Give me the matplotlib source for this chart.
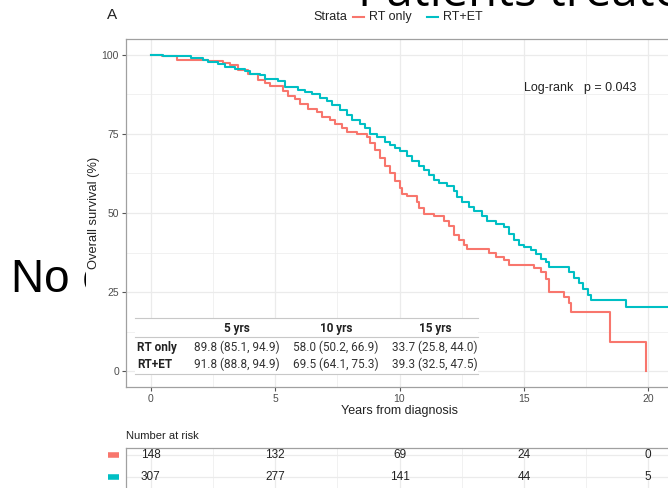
import matplotlib
matplotlib.use("Agg")
import matplotlib.pyplot as plt
from matplotlib.patches import Rectangle
from matplotlib.lines import Line2D

# Kaplan-Meier step estimates (years, survival %)
rt_only_t = [0, 0.45, 1.05, 2.3, 2.9, 3.2, 3.5, 3.9, 4.3, 4.6, 4.8, 5.3, 5.5, 5.8,
             6.0, 6.3, 6.7, 6.9, 7.2, 7.4, 7.7, 7.9, 8.3, 8.7, 8.8, 9.0, 9.2, 9.4,
             9.6, 9.8, 10.0, 10.1, 10.3, 10.7, 10.8, 11.0, 11.4, 11.8, 12.0, 12.2,
             12.4, 12.6, 12.7, 13.6, 13.9, 14.2, 14.4, 15.4, 15.7, 15.9, 16.0, 16.6,
             16.8, 16.9, 18.45, 19.9]
rt_only_s = [100, 99.5, 98.4, 98.1, 97.5, 96.8, 95.2, 93.8, 92.0, 91.0, 90.0, 88.5,
             87.0, 86.0, 84.5, 83.0, 82.0, 80.5, 79.5, 78.0, 77.0, 75.5, 75.0, 74.0,
             72.0, 70.0, 67.5, 65.0, 62.5, 60.0, 58.0, 56.0, 55.5, 53.5, 51.5, 49.8,
             49.0, 47.5, 46.0, 43.0, 41.5, 40.0, 38.6, 37.5, 36.2, 35.0, 33.7, 32.5,
             31.2, 29.0, 25.0, 23.5, 21.5, 18.7, 9.3, 0]

rt_et_t = [0, 0.5, 1.6, 2.1, 2.3, 2.7, 3.0, 3.4, 3.8, 4.0, 4.4, 4.6, 5.1, 5.4, 5.9,
           6.2, 6.5, 6.8, 7.1, 7.3, 7.6, 7.9, 8.1, 8.4, 8.6, 8.8, 9.1, 9.4, 9.6, 9.8,
           10.0, 10.3, 10.5, 10.8, 11.0, 11.2, 11.4, 11.6, 11.9, 12.2, 12.3, 12.5,
           12.8, 13.0, 13.3, 13.5, 13.9, 14.2, 14.4, 14.6, 14.8, 15.0, 15.3, 15.5,
           15.7, 15.9, 16.0, 16.8, 17.0, 17.2, 17.4, 17.6, 17.7, 19.1, 20.9]
rt_et_s = [100, 99.7, 99.0, 98.4, 97.8, 97.0, 96.3, 95.5, 95.0, 94.0, 93.7, 92.4,
           91.6, 89.8, 89.0, 88.3, 87.5, 86.5, 85.5, 84.0, 82.5, 81.0, 79.5, 78.0,
           77.0, 75.0, 74.0, 72.5, 71.5, 70.5, 69.5, 68.0, 66.5, 65.0, 63.5, 62.0,
           60.5, 59.5, 58.5, 57.0, 55.0, 53.5, 52.0, 50.5, 49.0, 47.5, 46.5, 45.5,
           43.5, 41.5, 39.8, 39.3, 38.2, 37.0, 35.5, 34.5, 33.0, 31.5, 29.5, 28.0,
           26.0, 24.0, 22.4, 20.2, 20.2]

strata = ["RT only", "RT+ET"]
colors = ["#F8766D", "#00BFC4"]

# survival summary table
summary_cols = ["5 yrs", "10 yrs", "15 yrs"]
summary_rows = [
    ["89.8 (85.1, 94.9)", "58.0 (50.2, 66.9)", "33.7 (25.8, 44.0)"],
    ["91.8 (88.8, 94.9)", "69.5 (64.1, 75.3)", "39.3 (32.5, 47.5)"],
]

# number at risk
risk_times = [0, 5, 10, 15, 20]
risk_rt_only = [148, 132, 69, 24, 0]
risk_rt_et = [307, 277, 141, 44, 5]

W, H = 668, 488
fig = plt.figure(figsize=(W / 100, H / 100), dpi=100)
fig.patch.set_facecolor("white")

main_font = ["Liberation Sans", "DejaVu Sans"]
tab_font = ["Liberation Sans Narrow", "Roboto", "DejaVu Sans"]
grey_txt = "#4D4D4D"
grid_c = "#EBEBEB"
border_c = "#A0A0A0"


def px_axes(left, top, right, bottom):
    return fig.add_axes([left / W, 1 - bottom / H, (right - left) / W, (bottom - top) / H])


# slide text behind the pasted chart
fig.text(11 / W, 1 - 292 / H, "No c", fontsize=33, family=main_font,
         color="black", va="baseline", ha="left", zorder=-3)
fig.text(358 / W, 1 - 6 / H, "Patients treated", fontsize=34,
         family=["Open Sans", "DejaVu Sans"], color="black", va="baseline", ha="left",
         zorder=-3)
fig.patches.append(Rectangle((86 / W, 0), 1, 1 - 6 / H, transform=fig.transFigure,
                             facecolor="white", edgecolor="none", zorder=-2))

# ---- survival curves ----
ax = px_axes(126, 39, 673, 387)
ax.set_xlim(-1, 21)
ax.set_ylim(-5, 105)
ax.set_xticks([0, 5, 10, 15, 20])
ax.set_xticks([2.5, 7.5, 12.5, 17.5], minor=True)
ax.set_yticks([0, 25, 50, 75, 100])
ax.set_yticks([12.5, 37.5, 62.5, 87.5], minor=True)
ax.grid(True, which="major", color=grid_c, lw=0.9)
ax.grid(True, which="minor", color=grid_c, lw=0.5)
ax.set_axisbelow(True)
for sp in ax.spines.values():
    sp.set_color(border_c)
    sp.set_linewidth(0.9)
ax.tick_params(which="major", length=3, color="#555555", labelsize=7.5,
               labelcolor=grey_txt, pad=2)
ax.tick_params(which="minor", length=0)
for lab in ax.get_xticklabels() + ax.get_yticklabels():
    lab.set_family(main_font)

ax.step(rt_only_t, rt_only_s, where="post", color=colors[0], lw=1.5, zorder=3)
ax.step(rt_et_t, rt_et_s, where="post", color=colors[1], lw=1.5, zorder=3)

ax.set_xlabel("Years from diagnosis", fontsize=9, family=main_font, color="#222222",
              labelpad=1)
ax.set_ylabel("Overall survival (%)", fontsize=9.3, family=main_font, color="#222222",
              labelpad=1)

ax.text(15.0, 89.6, "Log-rank   p = 0.043", fontsize=9, family=main_font,
        color="#222222", va="center", ha="left")

# inset summary table
ax.add_patch(Rectangle((-0.62, -1.3), 13.77, 18.1, facecolor="white", edgecolor="none",
                       zorder=2))
for yl in [16.8, 10.8, -0.9]:
    ax.plot([-0.62, 13.15], [yl, yl], color="#C8C8C8", lw=0.8, zorder=2.5)
col_x = [3.47, 7.45, 11.43]
for cx, name in zip(col_x, summary_cols):
    ax.text(cx, 13.6, name, fontsize=8.5, family=tab_font, weight="bold", ha="center",
            va="center", color="#222222", zorder=4)
for ry, name, vals in zip([7.6, 2.2], strata, summary_rows):
    ax.text(-0.54, ry, name, fontsize=8.5, family=tab_font, weight="bold", ha="left",
            va="center", color="#222222", zorder=4)
    for cx, v in zip(col_x, vals):
        ax.text(cx, ry, v, fontsize=8.5, family=tab_font, ha="center", va="center",
                color="#333333", zorder=4)

# legend along the top
fig.text(112 / W, 1 - 15 / H, "A", fontsize=11, family=main_font, ha="center",
         va="center", color="#222222")
ly = 1 - 17 / H
fig.text(313 / W, ly, "Strata", fontsize=9, family=main_font, va="center", ha="left",
         color="#222222")
for x0, name, c in zip([353, 427], strata, colors):
    fig.add_artist(Line2D([x0 / W, (x0 + 11) / W], [ly, ly], color=c, lw=1.5))
    fig.text((x0 + 16) / W, ly, name, fontsize=9, family=main_font, va="center",
             ha="left", color="#222222")

# ---- number at risk ----
fig.text(126 / W, 1 - 436 / H, "Number at risk", fontsize=8, family=main_font,
         va="center", ha="left", color="#222222")
ax2 = px_axes(126, 448, 673, 500)
ax2.set_xlim(-1, 21)
ax2.set_ylim(2.05, -0.32)
ax2.set_xticks([0, 5, 10, 15, 20])
ax2.set_xticks([2.5, 7.5, 12.5, 17.5], minor=True)
ax2.set_yticks([0, 1])
ax2.grid(True, which="major", color=grid_c, lw=0.9)
ax2.grid(True, which="minor", axis="x", color=grid_c, lw=0.5)
ax2.set_axisbelow(True)
ax2.tick_params(length=0, labelbottom=False, labelleft=False)
for sp in ax2.spines.values():
    sp.set_color(border_c)
    sp.set_linewidth(0.9)
for row, (counts, c) in enumerate(zip([risk_rt_only, risk_rt_et], colors)):
    for tx, n in zip(risk_times, counts):
        ax2.text(tx, row, str(n), fontsize=8.5, family=main_font, ha="center",
                 va="center", color="#222222")
    ax2.plot([-1.72, -1.3], [row, row], color=c, lw=4, clip_on=False,
             solid_capstyle="butt")

fig.savefig("out.png", dpi=100)
